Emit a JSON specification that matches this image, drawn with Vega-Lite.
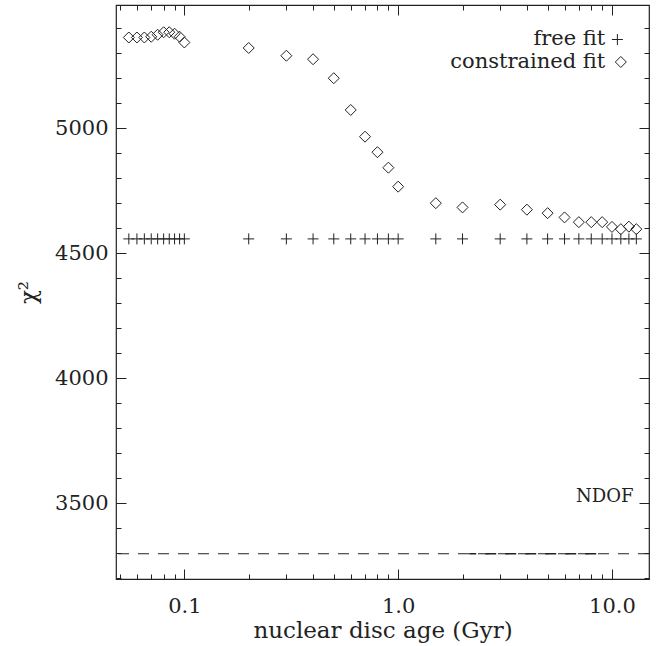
{
  "$schema": "https://vega.github.io/schema/vega-lite/v6.json",
  "width": 533,
  "height": 574,
  "autosize": {"type": "none"},
  "padding": {"left": 116, "top": 5, "right": 11, "bottom": 67},
  "background": "white",
  "config": {
    "font": "DejaVu Serif",
    "view": {"stroke": "#222", "strokeWidth": 1.2},
    "axis": {
      "domain": false,
      "grid": false,
      "labelFont": "DejaVu Serif",
      "titleFont": "DejaVu Serif",
      "labelColor": "#222",
      "titleColor": "#222",
      "tickColor": "#222",
      "tickWidth": 1,
      "labelFontSize": 21,
      "titleFontSize": 23,
      "titleFontWeight": "normal",
      "labelOverlap": false,
      "labelFlush": false
    }
  },
  "datasets": {
    "fits": [
      {"age": 0.055, "free": 4557, "constrained": 5363},
      {"age": 0.06, "free": 4557, "constrained": 5363},
      {"age": 0.065, "free": 4557, "constrained": 5363},
      {"age": 0.07, "free": 4557, "constrained": 5366},
      {"age": 0.075, "free": 4557, "constrained": 5374},
      {"age": 0.08, "free": 4557, "constrained": 5384},
      {"age": 0.085, "free": 4557, "constrained": 5384},
      {"age": 0.09, "free": 4557, "constrained": 5378},
      {"age": 0.095, "free": 4557, "constrained": 5366},
      {"age": 0.1, "free": 4557, "constrained": 5343},
      {"age": 0.2, "free": 4557, "constrained": 5321},
      {"age": 0.3, "free": 4557, "constrained": 5290},
      {"age": 0.4, "free": 4557, "constrained": 5276},
      {"age": 0.5, "free": 4557, "constrained": 5200},
      {"age": 0.6, "free": 4557, "constrained": 5073},
      {"age": 0.7, "free": 4557, "constrained": 4966},
      {"age": 0.8, "free": 4557, "constrained": 4904},
      {"age": 0.9, "free": 4557, "constrained": 4842},
      {"age": 1.0, "free": 4557, "constrained": 4766},
      {"age": 1.5, "free": 4557, "constrained": 4700},
      {"age": 2, "free": 4557, "constrained": 4683},
      {"age": 3, "free": 4557, "constrained": 4694},
      {"age": 4, "free": 4557, "constrained": 4674},
      {"age": 5, "free": 4557, "constrained": 4660},
      {"age": 6, "free": 4557, "constrained": 4643},
      {"age": 7, "free": 4557, "constrained": 4624},
      {"age": 8, "free": 4557, "constrained": 4624},
      {"age": 9, "free": 4557, "constrained": 4624},
      {"age": 10, "free": 4557, "constrained": 4605},
      {"age": 11, "free": 4557, "constrained": 4596},
      {"age": 12, "free": 4557, "constrained": 4606},
      {"age": 13, "free": 4557, "constrained": 4596}
    ],
    "ndof": [{"ndof": 3297}]
  },
  "layer": [
    {
      "data": {"name": "fits"},
      "mark": {"type": "point", "shape": "diamond", "filled": false, "size": 121, "stroke": "#222", "strokeWidth": 1, "opacity": 1},
      "encoding": {
        "x": {
          "field": "age", "type": "quantitative",
          "scale": {"type": "log", "domain": [0.0479, 14.9], "nice": false, "zero": false},
          "axis": {
            "orient": "bottom",
            "title": "nuclear disc age (Gyr)",
            "values": [0.05, 0.06, 0.07, 0.08, 0.09, 0.1, 0.2, 0.3, 0.4, 0.5, 0.6, 0.7, 0.8, 0.9, 1, 2, 3, 4, 5, 6, 7, 8, 9, 10],
            "labelExpr": "(datum.value == 0.1 || datum.value == 1 || datum.value == 10) ? format(datum.value, '.1f') : ''",
            "tickSize": {"condition": {"test": "datum.value == 0.1 || datum.value == 1 || datum.value == 10", "value": -10}, "value": -5},
            "labelPadding": 26,
            "titlePadding": -2
          }
        },
        "y": {
          "field": "constrained", "type": "quantitative",
          "scale": {"domain": [3196, 5493], "nice": false, "zero": false},
          "axis": {
            "orient": "left",
            "title": "χ²",
            "titleFontSize": 23,
            "values": [3200, 3300, 3400, 3500, 3600, 3700, 3800, 3900, 4000, 4100, 4200, 4300, 4400, 4500, 4600, 4700, 4800, 4900, 5000, 5100, 5200, 5300, 5400],
            "labelExpr": "datum.value % 500 == 0 ? '' + datum.value : ''",
            "tickSize": {"condition": {"test": "datum.value % 500 == 0", "value": -10}, "value": -5},
            "labelPadding": 18,
            "titlePadding": 14
          }
        }
      }
    },
    {
      "data": {"name": "fits"},
      "mark": {"type": "point", "shape": "M-1,0L1,0M0,-1L0,1", "filled": false, "size": 121, "stroke": "#222", "strokeWidth": 1, "opacity": 1},
      "encoding": {
        "x": {
          "field": "age", "type": "quantitative",
          "scale": {"type": "log", "domain": [0.0479, 14.9], "nice": false, "zero": false},
          "axis": {
            "orient": "top",
            "title": null,
            "values": [0.05, 0.06, 0.07, 0.08, 0.09, 0.1, 0.2, 0.3, 0.4, 0.5, 0.6, 0.7, 0.8, 0.9, 1, 2, 3, 4, 5, 6, 7, 8, 9, 10],
            "labels": false,
            "tickSize": {"condition": {"test": "datum.value == 0.1 || datum.value == 1 || datum.value == 10", "value": -10}, "value": -5}
          }
        },
        "y": {
          "field": "free", "type": "quantitative",
          "scale": {"domain": [3196, 5493], "nice": false, "zero": false},
          "axis": {
            "orient": "right",
            "title": null,
            "values": [3200, 3300, 3400, 3500, 3600, 3700, 3800, 3900, 4000, 4100, 4200, 4300, 4400, 4500, 4600, 4700, 4800, 4900, 5000, 5100, 5200, 5300, 5400],
            "labels": false,
            "tickSize": {"condition": {"test": "datum.value % 500 == 0", "value": -10}, "value": -5}
          }
        }
      }
    },
    {
      "data": {"name": "ndof"},
      "mark": {"type": "rule", "stroke": "#222", "strokeWidth": 1, "strokeDash": [11, 9]},
      "encoding": {
        "y": {"field": "ndof", "type": "quantitative", "axis": null}
      }
    },
    {
      "data": {"name": "ndof"},
      "mark": {"type": "rule", "stroke": "#222", "strokeWidth": 1.3, "strokeDash": [11, 9], "strokeDashOffset": 4},
      "encoding": {
        "x": {"datum": 2.15, "type": "quantitative", "axis": null},
        "x2": {"datum": 8.9},
        "y": {"field": "ndof", "type": "quantitative", "axis": null}
      }
    },
    {
      "data": {"name": "ndof"},
      "mark": {"type": "text", "text": "NDOF", "align": "right", "baseline": "middle", "font": "DejaVu Serif", "fontSize": 18, "color": "#222"},
      "encoding": {
        "x": {"datum": 12.6, "type": "quantitative", "axis": null},
        "y": {"datum": 3525, "type": "quantitative", "axis": null}
      }
    },
    {
      "data": {"values": [{}]},
      "mark": {"type": "text", "text": "free fit", "align": "right", "baseline": "middle", "font": "DejaVu Serif", "fontSize": 21, "color": "#222"},
      "encoding": {
        "x": {"datum": 9.3, "type": "quantitative", "axis": null},
        "y": {"datum": 5355, "type": "quantitative", "axis": null}
      }
    },
    {
      "data": {"values": [{}]},
      "mark": {"type": "text", "text": "constrained fit", "align": "right", "baseline": "middle", "font": "DejaVu Serif", "fontSize": 21, "color": "#222"},
      "encoding": {
        "x": {"datum": 9.3, "type": "quantitative", "axis": null},
        "y": {"datum": 5265, "type": "quantitative", "axis": null}
      }
    },
    {
      "data": {"values": [{}]},
      "mark": {"type": "point", "shape": "M-1,0L1,0M0,-1L0,1", "filled": false, "size": 121, "stroke": "#222", "strokeWidth": 1, "opacity": 1},
      "encoding": {
        "x": {"datum": 10.6, "type": "quantitative", "axis": null},
        "y": {"datum": 5355, "type": "quantitative", "axis": null}
      }
    },
    {
      "data": {"values": [{}]},
      "mark": {"type": "point", "shape": "diamond", "filled": false, "size": 121, "stroke": "#222", "strokeWidth": 1, "opacity": 1},
      "encoding": {
        "x": {"datum": 11.0, "type": "quantitative", "axis": null},
        "y": {"datum": 5265, "type": "quantitative", "axis": null}
      }
    }
  ],
  "resolve": {"axis": {"x": "independent", "y": "independent"}}
}
